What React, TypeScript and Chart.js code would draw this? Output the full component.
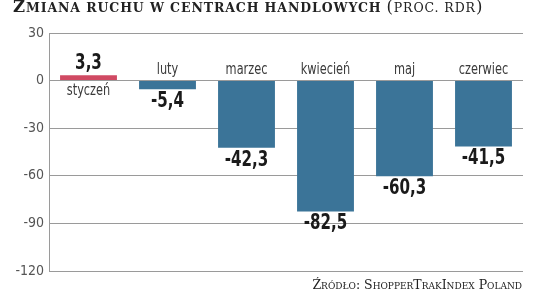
import React, { useEffect, useRef } from "react";
import { Chart, registerables } from "chart.js";

Chart.register(...registerables);

const categories = ["styczeń", "luty", "marzec", "kwiecień", "maj", "czerwiec"];
const values = [3.3, -5.4, -42.3, -82.5, -60.3, -41.5];
const valueLabels = ["3,3", "-5,4", "-42,3", "-82,5", "-60,3", "-41,5"];
const yTicks = [30, 0, -30, -60, -90, -120];

const BLUE = "#3b7498";
const RED = "#d04a63";
const NARROW = '"DejaVu Sans Condensed", "DejaVu Sans", sans-serif';

function drawScaled(ctx: any, text: string, x: number, y: number, sx: number) {
  ctx.save();
  ctx.translate(x, y);
  ctx.scale(sx, 1);
  ctx.fillText(text, 0, 0);
  ctx.restore();
}

const labelPlugin = {
  id: "barLabels",
  afterDatasetsDraw(chart: any) {
    const { ctx } = chart;
    const meta = chart.getDatasetMeta(0);
    const yScale = chart.scales.y;
    const zero = yScale.getPixelForValue(0);
    ctx.save();
    ctx.textAlign = "center";
    meta.data.forEach((bar: any, i: number) => {
      const v = values[i];
      const x = bar.x;
      const yEnd = bar.y;
      ctx.fillStyle = "#1a1a1a";
      ctx.font = `bold 21px ${NARROW}`;
      if (v >= 0) {
        ctx.textBaseline = "bottom";
        drawScaled(ctx, valueLabels[i], x, yEnd - 1, 0.8);
      } else {
        ctx.textBaseline = "top";
        drawScaled(ctx, valueLabels[i], x, yEnd + 2, 0.8);
      }
      ctx.fillStyle = "#3a3a3a";
      ctx.font = `15px ${NARROW}`;
      if (v >= 0) {
        ctx.textBaseline = "top";
        drawScaled(ctx, categories[i], x, zero + 3, 0.84);
      } else {
        ctx.textBaseline = "bottom";
        drawScaled(ctx, categories[i], x, zero - 3, 0.84);
      }
    });
    ctx.restore();
  },
};

const big = { fontSize: 16.5 };
const small = { fontSize: 12.5 };

export default function App() {
  const ref = useRef<HTMLCanvasElement>(null);
  useEffect(() => {
    document.body.style.margin = "0";
    const chart = new Chart(ref.current!, {
      type: "bar",
      data: {
        labels: categories,
        datasets: [
          {
            data: values,
            backgroundColor: values.map((v) => (v >= 0 ? RED : BLUE)),
            categoryPercentage: 0.72,
            barPercentage: 1,
          },
        ],
      },
      options: {
        animation: false,
        responsive: false,
        maintainAspectRatio: false,
        layout: { padding: { left: 0, top: 33, right: 13, bottom: 22 } },
        plugins: { legend: { display: false }, tooltip: { enabled: false } },
        scales: {
          x: { display: false },
          y: {
            min: -120,
            max: 30,
            afterFit(scale: any) {
              scale.width = 49;
            },
            afterBuildTicks(scale: any) {
              scale.ticks = yTicks.map((v) => ({ value: v }));
            },
            grid: { color: "#9a9a9a", lineWidth: 1, drawTicks: false },
            border: { display: true, color: "#9a9a9a", width: 1 },
            ticks: {
              padding: 5,
              color: "#555",
              font: { family: NARROW, size: 14 },
            },
          },
        },
      },
      plugins: [labelPlugin],
    });
    return () => chart.destroy();
  }, []);
  return (
    <div style={{ position: "relative", width: 536, height: 293, background: "#fff", overflow: "hidden" }}>
      <canvas ref={ref} width={536} height={293} style={{ position: "absolute", left: 0, top: 0 }} />
      <div
        style={{
          position: "absolute",
          left: 13,
          top: -2,
          fontFamily: '"DejaVu Serif", serif',
          color: "#222",
          whiteSpace: "nowrap",
          lineHeight: "18px",
          letterSpacing: "0.9px",
        }}
      >
        <span style={{ fontWeight: "bold" }}>
          <span style={big}>Z</span>
          <span style={small}>MIANA RUCHU W CENTRACH HANDLOWYCH</span>
        </span>
        <span style={{ fontWeight: "normal" }}>
          <span style={small}> </span>
          <span style={big}>(</span>
          <span style={small}>PROC. RDR</span>
          <span style={big}>)</span>
        </span>
      </div>
      <div
        style={{
          position: "absolute",
          right: 14,
          top: 278,
          fontFamily: '"DejaVu Serif", serif',
          fontVariant: "small-caps",
          fontSize: 12.5,
          color: "#222",
          whiteSpace: "nowrap",
          lineHeight: "14px",
        }}
      >
        Źródło: ShopperTrakIndex Poland
      </div>
    </div>
  );
}
